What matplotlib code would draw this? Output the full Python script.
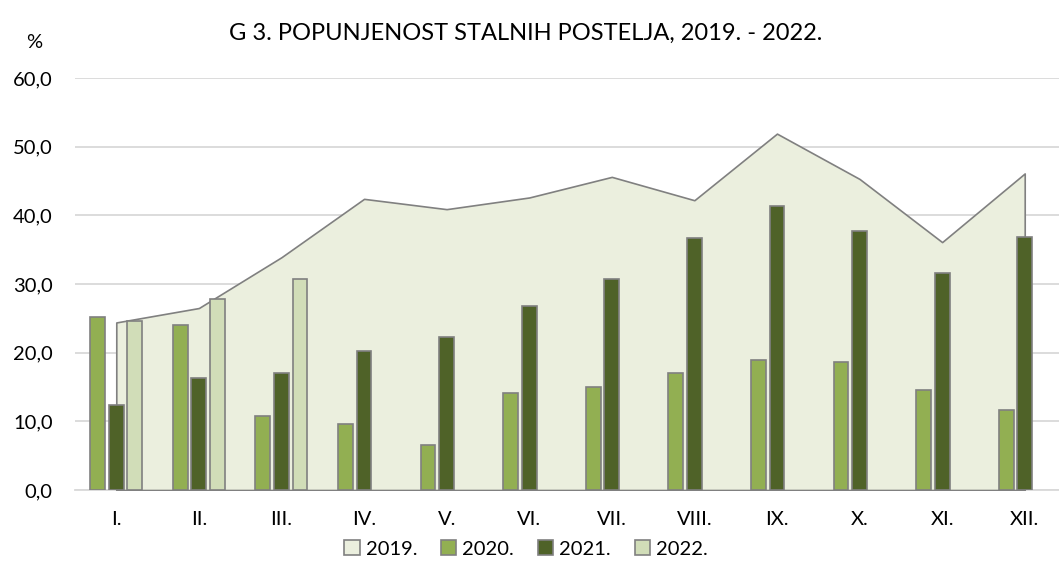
import matplotlib.pyplot as plt
import numpy as np

months = ["I.", "II.", "III.", "IV.", "V.", "VI.", "VII.", "VIII.", "IX.", "X.", "XI.", "XII."]
y2019 = [24.4, 26.5, 33.9, 42.4, 40.9, 42.6, 45.6, 42.2, 51.9, 45.3, 36.1, 46.1]
y2020 = [25.2, 24.1, 10.8, 9.6, 6.5, 14.1, 15.0, 17.0, 19.0, 18.6, 14.6, 11.6]
y2021 = [12.4, 16.3, 17.0, 20.2, 22.3, 26.8, 30.7, 36.7, 41.3, 37.7, 31.6, 36.8]
y2022 = [24.6, 27.8, 30.7]

plt.rcParams['font.family'] = ['Lato', 'DejaVu Sans']

fig = plt.figure(figsize=(10.59, 5.83), dpi=100)
ax = fig.add_axes([75 / 1059, 93 / 583, 991 / 1059, 412 / 583])

x = np.arange(len(months))
edge = "#808080"
w = 0.18
off = 0.225

ax.fill_between(x, 0, y2019, facecolor="#EBEFDE", edgecolor=edge, linewidth=1.2,
                label="2019.", zorder=2)
ax.bar(x - off, y2020, width=w, color="#92AF52", edgecolor=edge, linewidth=1.2,
       label="2020.", zorder=3)
ax.bar(x, y2021, width=w, color="#4F6228", edgecolor=edge, linewidth=1.2,
       label="2021.", zorder=3)
ax.bar(x[:len(y2022)] + off, y2022, width=w, color="#D1DDB8", edgecolor=edge,
       linewidth=1.2, label="2022.", zorder=3)

ax.set_xlim(-0.5, 11.5)
ax.set_ylim(0, 60)
ax.set_yticks(np.arange(0, 61, 10))
ax.set_yticklabels([f"{v:.1f}".replace(".", ",") for v in np.arange(0, 61, 10)])
ax.set_xticks(x)
ax.set_xticklabels(months)
ax.tick_params(axis="y", length=0, pad=16, labelsize=14.5)
ax.tick_params(axis="x", length=0, pad=15, labelsize=14.5)
ax.grid(axis="y", color="#D9D9D9", linewidth=1.3, zorder=0)
ax.set_axisbelow(True)
for s in ["top", "right", "left"]:
    ax.spines[s].set_visible(False)
ax.spines["bottom"].set_color("#D9D9D9")
ax.spines["bottom"].set_linewidth(1.3)
ax.spines["bottom"].set_zorder(1)

fig.text(0.496, 0.943, "G 3. POPUNJENOST STALNIH POSTELJA, 2019. - 2022.",
         ha="center", va="center", fontsize=17)
fig.text(34 / 1059, 1 - 43 / 583, "%", ha="center", va="center", fontsize=14.5)

fig.legend(loc="center", bbox_to_anchor=(0.497, 0.058), ncol=4, frameon=False,
           fontsize=14.5, handlelength=0.75, handleheight=0.75, handletextpad=0.3,
           columnspacing=1.2)

fig.savefig("out.png", dpi=100)
